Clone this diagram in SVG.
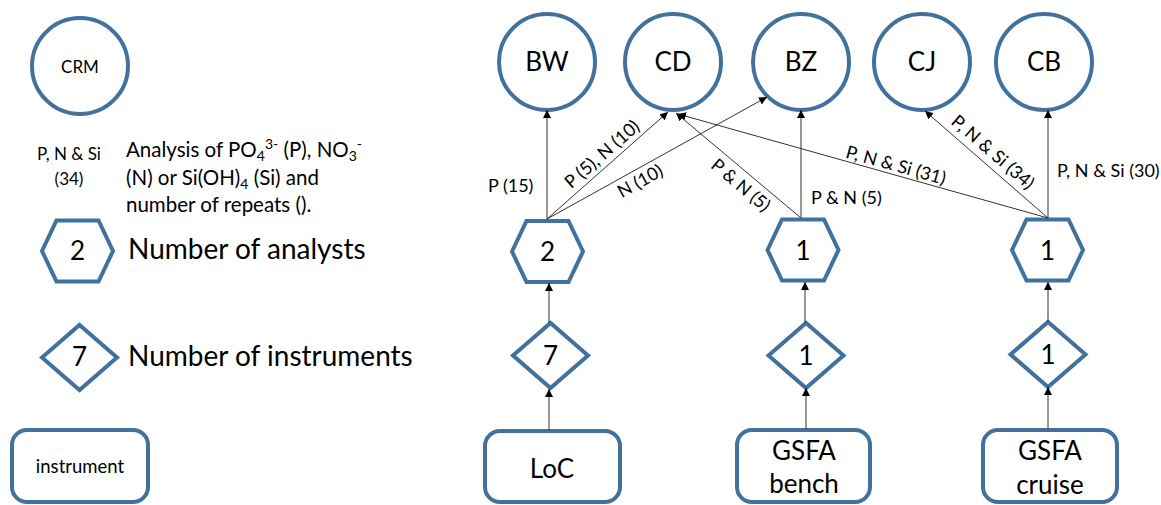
<svg xmlns="http://www.w3.org/2000/svg" width="1161" height="505" viewBox="0 0 1161 505">
<defs>
<style>
.node{fill:#fff;stroke:#41719c;stroke-width:4}
.t{font-family:Lato,"Open Sans","Liberation Sans",sans-serif;fill:#000}
.big{font-size:26px;text-anchor:middle}
.lbl{font-size:18px}
.edge{stroke:#333;stroke-width:1;fill:none;marker-end:url(#ah)}
</style>
<marker id="ah" viewBox="0 0 8 8" refX="8" refY="4" markerWidth="8" markerHeight="8" markerUnits="userSpaceOnUse" orient="auto">
<path d="M0,0 L8,4 L0,8 z" fill="#000"/>
</marker>
</defs>
<rect width="1161" height="505" fill="#fff"/>

<!-- Legend -->
<g id="legend-crm">
<circle class="node" cx="80" cy="66" r="48"/>
<text class="t" x="80" y="73" font-size="17" text-anchor="middle">CRM</text>
</g>
<g id="legend-edge">
<text class="t" x="69" y="160" font-size="17" text-anchor="middle">P, N &amp; Si</text>
<text class="t" x="69" y="185" font-size="17" text-anchor="middle">(34)</text>
<text class="t" x="126" y="157" font-size="20.5">Analysis of PO<tspan font-size="14" dy="4">4</tspan><tspan font-size="14" dy="-12">3-</tspan><tspan dy="8"> (P), NO</tspan><tspan font-size="14" dy="4">3</tspan><tspan font-size="14" dy="-12">-</tspan></text>
<text class="t" x="126" y="185" font-size="20.5">(N) or Si(OH)<tspan font-size="14" dy="4">4</tspan><tspan dy="-4"> (Si) and</tspan></text>
<text class="t" x="126" y="212" font-size="20.5">number of repeats ().</text>
</g>
<g id="legend-analysts">
<polygon class="node" points="42,251 56.5,220.5 98.5,220.5 113,251 98.5,281.5 56.5,281.5"/>
<text class="t big" x="77.5" y="260">2</text>
<text class="t" x="128" y="259" font-size="28">Number of analysts</text>
</g>
<g id="legend-instruments">
<polygon class="node" points="42,357.5 79.5,325 117,357.5 79.5,390"/>
<text class="t big" x="79.5" y="366">7</text>
<text class="t" x="128" y="366" font-size="28">Number of instruments</text>
</g>
<g id="legend-instrument">
<rect class="node" x="12" y="430" width="136" height="72" rx="15"/>
<text class="t" x="80" y="473" font-size="18.5" text-anchor="middle">instrument</text>
</g>

<!-- CRM nodes -->
<g id="BW"><circle class="node" cx="547" cy="62" r="48"/><text class="t big" x="547" y="71">BW</text></g>
<g id="CD"><circle class="node" cx="673" cy="62" r="48"/><text class="t big" x="673" y="71">CD</text></g>
<g id="BZ"><circle class="node" cx="801" cy="62" r="48"/><text class="t big" x="801" y="71">BZ</text></g>
<g id="CJ"><circle class="node" cx="922" cy="62" r="48"/><text class="t big" x="922" y="71">CJ</text></g>
<g id="CB"><circle class="node" cx="1044" cy="62" r="48"/><text class="t big" x="1044" y="71">CB</text></g>

<!-- Analysts -->
<g id="hex-loc"><polygon class="node" points="512,251.5 526.5,221 568.5,221 583,251.5 568.5,282 526.5,282"/><text class="t big" x="547.5" y="261">2</text></g>
<g id="hex-bench"><polygon class="node" points="767.5,250 782,219.5 824,219.5 838.5,250 824,280.5 782,280.5"/><text class="t big" x="803" y="259.5">1</text></g>
<g id="hex-cruise"><polygon class="node" points="1012,250 1026.5,219.5 1068.5,219.5 1083,250 1068.5,280.5 1026.5,280.5"/><text class="t big" x="1047.5" y="259.5">1</text></g>

<!-- Instruments count -->
<g id="dia-loc"><polygon class="node" points="513,355.5 550.5,323 588,355.5 550.5,388"/><text class="t big" x="550.5" y="365">7</text></g>
<g id="dia-bench"><polygon class="node" points="768.5,355.5 806,323 843.5,355.5 806,388"/><text class="t big" x="806" y="365">1</text></g>
<g id="dia-cruise"><polygon class="node" points="1010.5,354.5 1048,322 1085.5,354.5 1048,387"/><text class="t big" x="1048" y="364">1</text></g>

<!-- Instruments -->
<g id="LoC"><rect class="node" x="485" y="431" width="135" height="71" rx="15"/><text class="t" x="552" y="478" font-size="26" text-anchor="middle">LoC</text></g>
<g id="GSFA-bench"><rect class="node" x="737" y="430" width="133" height="72" rx="15"/><text class="t" x="804" y="460" font-size="26" text-anchor="middle">GSFA</text><text class="t" x="804" y="493" font-size="26" text-anchor="middle">bench</text></g>
<g id="GSFA-cruise"><rect class="node" x="983" y="430" width="134" height="72" rx="15"/><text class="t" x="1050" y="460" font-size="26" text-anchor="middle">GSFA</text><text class="t" x="1050" y="494" font-size="26" text-anchor="middle">cruise</text></g>

<!-- Connectors -->
<g id="connectors">
<line class="edge" x1="547" y1="219" x2="547" y2="110"/>
<line class="edge" x1="547" y1="219" x2="668" y2="112"/>
<line class="edge" x1="547" y1="219" x2="767" y2="97"/>
<line class="edge" x1="801" y1="218" x2="801" y2="110"/>
<line class="edge" x1="801" y1="218" x2="676" y2="113"/>
<line class="edge" x1="1048" y1="218" x2="678" y2="114"/>
<line class="edge" x1="1048" y1="218" x2="925" y2="111"/>
<line class="edge" x1="1048" y1="218" x2="1048" y2="110"/>
<line class="edge" x1="549" y1="323" x2="549" y2="283"/>
<line class="edge" x1="549" y1="430" x2="549" y2="389"/>
<line class="edge" x1="805" y1="323" x2="805" y2="282"/>
<line class="edge" x1="806" y1="429" x2="806" y2="388"/>
<line class="edge" x1="1048" y1="322" x2="1048" y2="282"/>
<line class="edge" x1="1048" y1="429" x2="1048" y2="387"/>
</g>
<g id="edge-labels">
<text class="t lbl" x="488" y="192">P (15)</text>
<text class="t lbl" x="811" y="204">P &amp; N (5)</text>
<text class="t lbl" x="1057" y="177">P, N &amp; Si (30)</text>
<text class="t lbl" text-anchor="middle" dy="0.35em" transform="translate(602,154) rotate(-41.2)">P (5), N (10)</text>
<text class="t lbl" text-anchor="middle" dy="0.35em" transform="translate(640,181) rotate(-28.8)">N (10)</text>
<text class="t lbl" text-anchor="middle" dy="0.35em" transform="translate(741,185) rotate(40)">P &amp; N (5)</text>
<text class="t lbl" text-anchor="middle" dy="0.35em" transform="translate(896,165) rotate(15.4)">P, N &amp; Si (31)</text>
<text class="t lbl" text-anchor="middle" dy="0.35em" transform="translate(993,152) rotate(40.8)">P, N &amp; Si (34)</text>
</g>
</svg>
